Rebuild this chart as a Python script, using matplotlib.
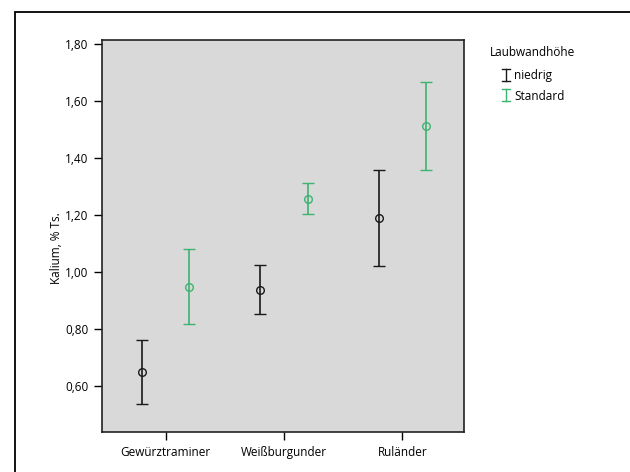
import matplotlib.pyplot as plt
import matplotlib.patches as mpatches
from matplotlib.lines import Line2D
import numpy as np

plt.rcParams['font.family'] = ['Open Sans', 'DejaVu Sans']

# ---------------Data---------------
sorten = ['Gewürztraminer', 'Weißburgunder', 'Ruländer']

niedrig_mean = [0.648, 0.938, 1.188]
niedrig_low = [0.538, 0.853, 1.020]
niedrig_high = [0.762, 1.023, 1.357]

standard_mean = [0.949, 1.257, 1.512]
standard_low = [0.818, 1.204, 1.360]
standard_high = [1.081, 1.313, 1.669]

y_ticks = [0.60, 0.80, 1.00, 1.20, 1.40, 1.60, 1.80]

gruppen = ['niedrig', 'Standard']
farben = ['#1a1a1a', '#3cb371']

# ---------------Plot---------------
W, H = 630, 472
fig = plt.figure(figsize=(W / 100, H / 100), dpi=100)
ax = fig.add_axes([0.1614, 0.0847, 0.5751, 0.8306])
ax.set_facecolor('#d9d9d9')

# outer frame around the whole chart
frame = mpatches.Rectangle((15 / W, -0.1), 1.2, 1.1 - 12 / H,
                           transform=fig.transFigure, fill=False,
                           edgecolor='black', linewidth=1.3, clip_on=False)
fig.patches.append(frame)

x = np.arange(len(sorten))
offset = 0.2

def draw_group(xpos, mean, low, high, color):
    mean = np.array(mean)
    err = [mean - np.array(low), np.array(high) - mean]
    ax.errorbar(xpos, mean, yerr=err, fmt='o', color=color, ecolor=color,
                markerfacecolor='none', markeredgecolor=color,
                markersize=5.5, markeredgewidth=1.0,
                elinewidth=1.2, capsize=4.5, capthick=1.2)

draw_group(x - offset, niedrig_mean, niedrig_low, niedrig_high, farben[0])
draw_group(x + offset, standard_mean, standard_low, standard_high, farben[1])

ax.set_xlim(-0.54, 2.52)
ax.set_ylim(0.438, 1.815)
ax.set_xticks(x)
ax.set_xticklabels(sorten, fontsize=8.5)
ax.set_yticks(y_ticks)
ax.set_yticklabels(['{:.2f}'.format(v).replace('.', ',') for v in y_ticks], fontsize=8.5)
ax.tick_params(axis='both', direction='out', length=6, width=1.0, color='black')
ax.tick_params(axis='y', pad=3.5)
ax.tick_params(axis='x', pad=4)

for side in ['left', 'bottom', 'top', 'right']:
    ax.spines[side].set_linewidth(1.2)
    ax.spines[side].set_color('#222222')

ax.set_ylabel('Kalium, % Ts.', fontsize=8.5)
ax.yaxis.set_label_coords(-0.108, 0.47)

# legend drawn by hand: title plus "I"-shaped errorbar symbols
fig.text(490 / W, 1 - 53 / H, 'Laubwandhöhe', fontsize=8.5, va='center', ha='left')
for i, (name, col) in enumerate(zip(gruppen, farben)):
    yc = 75 + i * 20
    xs = 506
    half = 6
    cap = 4
    fig.add_artist(Line2D([xs / W, xs / W], [1 - (yc - half) / H, 1 - (yc + half) / H],
                          transform=fig.transFigure, color=col, lw=1.0))
    for yy in (yc - half, yc + half):
        fig.add_artist(Line2D([(xs - cap) / W, (xs + cap) / W], [1 - yy / H, 1 - yy / H],
                              transform=fig.transFigure, color=col, lw=1.0))
    fig.text(514 / W, 1 - (yc + 1) / H, name, fontsize=8.5, va='center', ha='left')

fig.savefig('out.png', dpi=100)
